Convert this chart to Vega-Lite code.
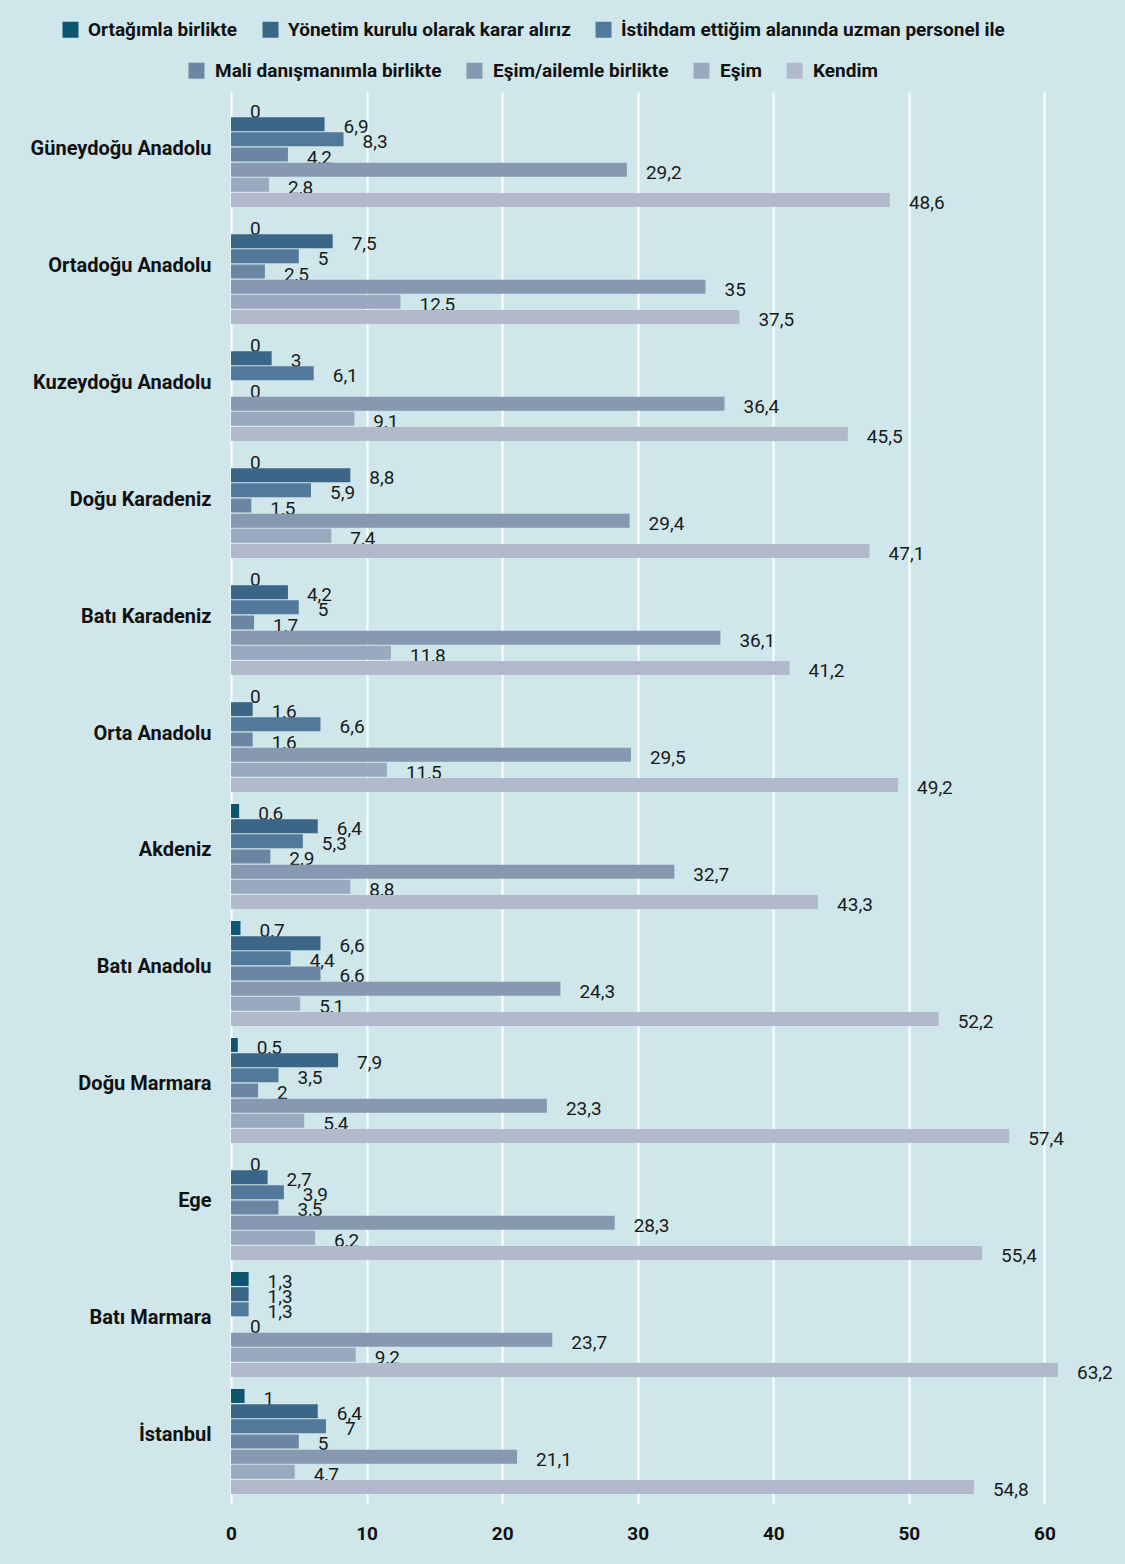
{
  "$schema": "https://vega.github.io/schema/vega-lite/v6.json",
  "autosize": {"type": "none"},
  "width": 827,
  "height": 1412,
  "padding": {"left": 231, "top": 92, "right": 67, "bottom": 60},
  "background": "#cfe7eb",
  "config": {
    "locale": {"number": {"decimal": ",", "thousands": ".", "grouping": [3], "currency": ["", " TL"]}},
    "view": {"stroke": null},
    "font": "Roboto",
    "legend": {"padding": 0}
  },
  "datasets": {
    "veri": [
      {"bolge": "Güneydoğu Anadolu", "seri": "Ortağımla birlikte", "deger": 0},
      {"bolge": "Güneydoğu Anadolu", "seri": "Yönetim kurulu olarak karar alırız", "deger": 6.9},
      {"bolge": "Güneydoğu Anadolu", "seri": "İstihdam ettiğim alanında uzman personel ile", "deger": 8.3},
      {"bolge": "Güneydoğu Anadolu", "seri": "Mali danışmanımla birlikte", "deger": 4.2},
      {"bolge": "Güneydoğu Anadolu", "seri": "Eşim/ailemle birlikte", "deger": 29.2},
      {"bolge": "Güneydoğu Anadolu", "seri": "Eşim", "deger": 2.8},
      {"bolge": "Güneydoğu Anadolu", "seri": "Kendim", "deger": 48.6},
      {"bolge": "Ortadoğu Anadolu", "seri": "Ortağımla birlikte", "deger": 0},
      {"bolge": "Ortadoğu Anadolu", "seri": "Yönetim kurulu olarak karar alırız", "deger": 7.5},
      {"bolge": "Ortadoğu Anadolu", "seri": "İstihdam ettiğim alanında uzman personel ile", "deger": 5},
      {"bolge": "Ortadoğu Anadolu", "seri": "Mali danışmanımla birlikte", "deger": 2.5},
      {"bolge": "Ortadoğu Anadolu", "seri": "Eşim/ailemle birlikte", "deger": 35},
      {"bolge": "Ortadoğu Anadolu", "seri": "Eşim", "deger": 12.5},
      {"bolge": "Ortadoğu Anadolu", "seri": "Kendim", "deger": 37.5},
      {"bolge": "Kuzeydoğu Anadolu", "seri": "Ortağımla birlikte", "deger": 0},
      {"bolge": "Kuzeydoğu Anadolu", "seri": "Yönetim kurulu olarak karar alırız", "deger": 3},
      {"bolge": "Kuzeydoğu Anadolu", "seri": "İstihdam ettiğim alanında uzman personel ile", "deger": 6.1},
      {"bolge": "Kuzeydoğu Anadolu", "seri": "Mali danışmanımla birlikte", "deger": 0},
      {"bolge": "Kuzeydoğu Anadolu", "seri": "Eşim/ailemle birlikte", "deger": 36.4},
      {"bolge": "Kuzeydoğu Anadolu", "seri": "Eşim", "deger": 9.1},
      {"bolge": "Kuzeydoğu Anadolu", "seri": "Kendim", "deger": 45.5},
      {"bolge": "Doğu Karadeniz", "seri": "Ortağımla birlikte", "deger": 0},
      {"bolge": "Doğu Karadeniz", "seri": "Yönetim kurulu olarak karar alırız", "deger": 8.8},
      {"bolge": "Doğu Karadeniz", "seri": "İstihdam ettiğim alanında uzman personel ile", "deger": 5.9},
      {"bolge": "Doğu Karadeniz", "seri": "Mali danışmanımla birlikte", "deger": 1.5},
      {"bolge": "Doğu Karadeniz", "seri": "Eşim/ailemle birlikte", "deger": 29.4},
      {"bolge": "Doğu Karadeniz", "seri": "Eşim", "deger": 7.4},
      {"bolge": "Doğu Karadeniz", "seri": "Kendim", "deger": 47.1},
      {"bolge": "Batı Karadeniz", "seri": "Ortağımla birlikte", "deger": 0},
      {"bolge": "Batı Karadeniz", "seri": "Yönetim kurulu olarak karar alırız", "deger": 4.2},
      {"bolge": "Batı Karadeniz", "seri": "İstihdam ettiğim alanında uzman personel ile", "deger": 5},
      {"bolge": "Batı Karadeniz", "seri": "Mali danışmanımla birlikte", "deger": 1.7},
      {"bolge": "Batı Karadeniz", "seri": "Eşim/ailemle birlikte", "deger": 36.1},
      {"bolge": "Batı Karadeniz", "seri": "Eşim", "deger": 11.8},
      {"bolge": "Batı Karadeniz", "seri": "Kendim", "deger": 41.2},
      {"bolge": "Orta Anadolu", "seri": "Ortağımla birlikte", "deger": 0},
      {"bolge": "Orta Anadolu", "seri": "Yönetim kurulu olarak karar alırız", "deger": 1.6},
      {"bolge": "Orta Anadolu", "seri": "İstihdam ettiğim alanında uzman personel ile", "deger": 6.6},
      {"bolge": "Orta Anadolu", "seri": "Mali danışmanımla birlikte", "deger": 1.6},
      {"bolge": "Orta Anadolu", "seri": "Eşim/ailemle birlikte", "deger": 29.5},
      {"bolge": "Orta Anadolu", "seri": "Eşim", "deger": 11.5},
      {"bolge": "Orta Anadolu", "seri": "Kendim", "deger": 49.2},
      {"bolge": "Akdeniz", "seri": "Ortağımla birlikte", "deger": 0.6},
      {"bolge": "Akdeniz", "seri": "Yönetim kurulu olarak karar alırız", "deger": 6.4},
      {"bolge": "Akdeniz", "seri": "İstihdam ettiğim alanında uzman personel ile", "deger": 5.3},
      {"bolge": "Akdeniz", "seri": "Mali danışmanımla birlikte", "deger": 2.9},
      {"bolge": "Akdeniz", "seri": "Eşim/ailemle birlikte", "deger": 32.7},
      {"bolge": "Akdeniz", "seri": "Eşim", "deger": 8.8},
      {"bolge": "Akdeniz", "seri": "Kendim", "deger": 43.3},
      {"bolge": "Batı Anadolu", "seri": "Ortağımla birlikte", "deger": 0.7},
      {"bolge": "Batı Anadolu", "seri": "Yönetim kurulu olarak karar alırız", "deger": 6.6},
      {"bolge": "Batı Anadolu", "seri": "İstihdam ettiğim alanında uzman personel ile", "deger": 4.4},
      {"bolge": "Batı Anadolu", "seri": "Mali danışmanımla birlikte", "deger": 6.6},
      {"bolge": "Batı Anadolu", "seri": "Eşim/ailemle birlikte", "deger": 24.3},
      {"bolge": "Batı Anadolu", "seri": "Eşim", "deger": 5.1},
      {"bolge": "Batı Anadolu", "seri": "Kendim", "deger": 52.2},
      {"bolge": "Doğu Marmara", "seri": "Ortağımla birlikte", "deger": 0.5},
      {"bolge": "Doğu Marmara", "seri": "Yönetim kurulu olarak karar alırız", "deger": 7.9},
      {"bolge": "Doğu Marmara", "seri": "İstihdam ettiğim alanında uzman personel ile", "deger": 3.5},
      {"bolge": "Doğu Marmara", "seri": "Mali danışmanımla birlikte", "deger": 2},
      {"bolge": "Doğu Marmara", "seri": "Eşim/ailemle birlikte", "deger": 23.3},
      {"bolge": "Doğu Marmara", "seri": "Eşim", "deger": 5.4},
      {"bolge": "Doğu Marmara", "seri": "Kendim", "deger": 57.4},
      {"bolge": "Ege", "seri": "Ortağımla birlikte", "deger": 0},
      {"bolge": "Ege", "seri": "Yönetim kurulu olarak karar alırız", "deger": 2.7},
      {"bolge": "Ege", "seri": "İstihdam ettiğim alanında uzman personel ile", "deger": 3.9},
      {"bolge": "Ege", "seri": "Mali danışmanımla birlikte", "deger": 3.5},
      {"bolge": "Ege", "seri": "Eşim/ailemle birlikte", "deger": 28.3},
      {"bolge": "Ege", "seri": "Eşim", "deger": 6.2},
      {"bolge": "Ege", "seri": "Kendim", "deger": 55.4},
      {"bolge": "Batı Marmara", "seri": "Ortağımla birlikte", "deger": 1.3},
      {"bolge": "Batı Marmara", "seri": "Yönetim kurulu olarak karar alırız", "deger": 1.3},
      {"bolge": "Batı Marmara", "seri": "İstihdam ettiğim alanında uzman personel ile", "deger": 1.3},
      {"bolge": "Batı Marmara", "seri": "Mali danışmanımla birlikte", "deger": 0},
      {"bolge": "Batı Marmara", "seri": "Eşim/ailemle birlikte", "deger": 23.7},
      {"bolge": "Batı Marmara", "seri": "Eşim", "deger": 9.2},
      {"bolge": "Batı Marmara", "seri": "Kendim", "deger": 63.2},
      {"bolge": "İstanbul", "seri": "Ortağımla birlikte", "deger": 1},
      {"bolge": "İstanbul", "seri": "Yönetim kurulu olarak karar alırız", "deger": 6.4},
      {"bolge": "İstanbul", "seri": "İstihdam ettiğim alanında uzman personel ile", "deger": 7},
      {"bolge": "İstanbul", "seri": "Mali danışmanımla birlikte", "deger": 5},
      {"bolge": "İstanbul", "seri": "Eşim/ailemle birlikte", "deger": 21.1},
      {"bolge": "İstanbul", "seri": "Eşim", "deger": 4.7},
      {"bolge": "İstanbul", "seri": "Kendim", "deger": 54.8}
    ]
  },
  "data": {"name": "veri"},
  "encoding": {
    "y": {
      "field": "bolge",
      "type": "nominal",
      "sort": null,
      "scale": {"paddingInner": 0.1026, "paddingOuter": 0.0855},
      "axis": {
        "title": null,
        "domain": false,
        "ticks": false,
        "grid": false,
        "labelPadding": 20,
        "labelFontSize": 20,
        "labelFontWeight": "bold",
        "labelColor": "#111111",
        "labelOffset": -6,
        "labelLimit": 300
      }
    },
    "yOffset": {
      "field": "seri",
      "type": "nominal",
      "scale": {
        "domain": ["Ortağımla birlikte", "Yönetim kurulu olarak karar alırız", "İstihdam ettiğim alanında uzman personel ile", "Mali danışmanımla birlikte", "Eşim/ailemle birlikte", "Eşim", "Kendim"],
        "paddingInner": 0.08,
        "paddingOuter": 0
      }
    },
    "x": {
      "field": "deger",
      "type": "quantitative",
      "scale": {"domain": [0, 61], "nice": false, "clamp": true},
      "axis": {
        "title": null,
        "values": [0, 10, 20, 30, 40, 50, 60],
        "format": "d",
        "domain": false,
        "ticks": false,
        "grid": true,
        "gridColor": "#ffffff",
        "gridWidth": 2,
        "gridOpacity": 1,
        "labelFlush": false,
        "labelPadding": 20,
        "labelFontSize": 19,
        "labelFontWeight": "bold",
        "labelColor": "#111111"
      }
    }
  },
  "layer": [
    {
      "mark": {"type": "text", "align": "left", "baseline": "middle", "dx": 19, "dy": 3, "fontSize": 19, "color": "#1a1a1a"},
      "encoding": {
        "text": {"field": "deger", "type": "quantitative", "format": ".4~g"}
      }
    },
    {
      "transform": [{"filter": {"field": "seri", "oneOf": ["Ortağımla birlikte", "Yönetim kurulu olarak karar alırız", "İstihdam ettiğim alanında uzman personel ile"]}}],
      "mark": {"type": "bar"},
      "encoding": {
        "color": {
          "field": "seri",
          "type": "nominal",
          "scale": {
            "domain": ["Ortağımla birlikte", "Yönetim kurulu olarak karar alırız", "İstihdam ettiğim alanında uzman personel ile"],
            "range": ["#0e5572", "#3b6688", "#52789a"]
          },
          "legend": {
            "title": null,
            "orient": "none",
            "legendX": -170,
            "legendY": -72,
            "direction": "horizontal",
            "symbolType": "square",
            "symbolSize": 256,
            "symbolStrokeWidth": 0,
            "symbolOpacity": 1,
            "labelFontSize": 19,
            "labelFontWeight": "bold",
            "labelColor": "#111111",
            "labelOffset": 8,
            "columnPadding": 23,
            "labelLimit": 600
          }
        }
      }
    },
    {
      "transform": [{"filter": {"field": "seri", "oneOf": ["Mali danışmanımla birlikte", "Eşim/ailemle birlikte", "Eşim", "Kendim"]}}],
      "mark": {"type": "bar"},
      "encoding": {
        "color": {
          "field": "seri",
          "type": "nominal",
          "scale": {
            "domain": ["Mali danışmanımla birlikte", "Eşim/ailemle birlikte", "Eşim", "Kendim"],
            "range": ["#6b86a3", "#8799b1", "#9aa9bf", "#b2b9cb"]
          },
          "legend": {
            "title": null,
            "orient": "none",
            "legendX": -44,
            "legendY": -31,
            "direction": "horizontal",
            "symbolType": "square",
            "symbolSize": 256,
            "symbolStrokeWidth": 0,
            "symbolOpacity": 1,
            "labelFontSize": 19,
            "labelFontWeight": "bold",
            "labelColor": "#111111",
            "labelOffset": 9,
            "columnPadding": 23,
            "labelLimit": 600
          }
        }
      }
    }
  ],
  "resolve": {"scale": {"color": "independent"}}
}
